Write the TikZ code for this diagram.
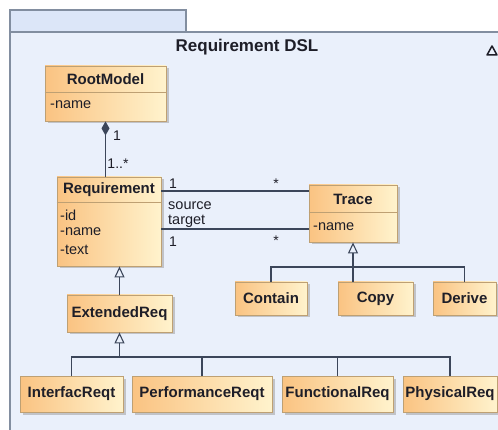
\documentclass[tikz,border=0pt]{standalone}
\usepackage{fontspec}
\setmainfont{Liberation Sans}
\usetikzlibrary{arrows.meta,shadows}

\definecolor{frameLine}{RGB}{130,142,160}
\definecolor{frameFill}{RGB}{234,240,251}
\definecolor{tabFill}{RGB}{220,230,248}
\definecolor{boxLine}{RGB}{190,160,115}
\definecolor{boxOrange}{RGB}{250,195,130}
\definecolor{boxPale}{RGB}{255,243,205}
\definecolor{ink}{RGB}{30,30,40}
\definecolor{edge}{RGB}{60,70,90}

\tikzset{
  umlclass/.style={draw=boxLine, line width=0.8pt, left color=boxOrange, right color=boxPale,
    drop shadow={shadow xshift=2.5pt, shadow yshift=-2.5pt, fill=black!35, opacity=0.6},
    inner sep=0pt, text=ink, font=\fontsize{15}{18}\selectfont\bfseries},
  clsname/.style={font=\fontsize{15}{18}\selectfont\bfseries, text=ink, inner sep=0pt},
  attr/.style={font=\fontsize{14.5}{17}\selectfont, text=ink, anchor=west, inner sep=0pt},
  mult/.style={font=\fontsize{14}{16}\selectfont, text=ink, inner sep=0pt},
  conn/.style={draw=edge, line width=1.1pt},
  genz/.style={conn, -{Triangle[open, length=11pt, width=10pt, fill=frameFill]}},
  compz/.style={conn, {Diamond[length=14pt, width=8pt]}-},
  divider/.style={draw=boxLine, line width=0.8pt},
}

% class box: name, left, top, right, bottom, text
\newcommand\classbox[6]{%
  \node[umlclass, minimum width={(#4-#2)*1pt}, minimum height={(#5-#3)*1pt}]
    (#1) at ({(#2+#4)/2},{(#3+#5)/2}) {#6};}

\begin{document}
\begin{tikzpicture}[x=1pt,y=-1pt]
\useasboundingbox (0,0) rectangle (498,430);
\fill[white] (0,0) rectangle (498,430);

% package frame with its tab
\filldraw[draw=frameLine, fill=tabFill, line width=1.2pt] (10,32) -- (10,10) -- (186,10) -- (186,32);
\filldraw[draw=frameLine, fill=frameFill, line width=1.2pt] (10,450) -- (10,32) -- (520,32) -- (520,450) -- cycle;
\node[font=\fontsize{17}{20}\selectfont\bfseries, text=ink] (title) at (247,47) {Requirement DSL};
\draw[ink, line width=1.5pt, line join=round] (487,55) -- (497,55) -- (492,46) -- cycle;

% RootModel
\classbox{root}{45}{66}{166}{121}{}
\draw[divider] (root.west |- 0,92) -- (root.east |- 0,92);
\node[clsname] (root-name) at (105.5,79) {RootModel};
\node[attr] (root-a1) at (50,105) {-name};

% Requirement
\classbox{req}{57}{177}{161}{266}{}
\draw[divider] (req.west |- 0,202) -- (req.east |- 0,202);
\node[clsname] (req-name) at (109,189.5) {Requirement};
\node[attr] (req-a1) at (60,215) {-id};
\node[attr] (req-a2) at (60,232) {-name};
\node[attr] (req-a3) at (60,250) {-text};

% Trace
\classbox{trace}{309}{185}{397}{242}{}
\draw[divider] (trace.west |- 0,212) -- (trace.east |- 0,212);
\node[clsname] (trace-name) at (353,199) {Trace};
\node[attr] (trace-a1) at (313,227) {-name};

% single-compartment classes
\classbox{ext}{67}{295}{172}{332}{ExtendedReq}
\classbox{contain}{235}{282}{307}{315}{Contain}
\classbox{copy}{338}{282}{413}{315}{Copy}
\classbox{derive}{433}{282}{496}{315}{Derive}
\classbox{ireq}{20}{376}{123}{412}{InterfacReqt}
\classbox{preq}{132}{376}{272}{412}{PerformanceReqt}
\classbox{freq}{282}{376}{393}{412}{FunctionalReq}
\classbox{phreq}{403}{376}{497}{412}{PhysicalReq}

% composition RootModel -> Requirement
\draw[compz] (root.south) -- (root.south |- req.north);
\node[mult] (m-root) at (117,136) {1};
\node[mult] (m-req) at (118,164) {1..*};

% Requirement <|-- ExtendedReq
\draw[genz] (ext.north) -- (ext.north |- req.south);

% ExtendedReq <|-- specialised requirements
\coordinate (busE) at (ext.south |- 0,357);
\draw[genz] (busE) -- (ext.south);
\draw[conn] (ireq.north) |- (busE);
\draw[conn] (preq.north) |- (busE);
\draw[conn] (freq.north) |- (busE);
\draw[conn] (phreq.north) |- (busE);

% Trace <|-- Contain, Copy, Derive
\coordinate (busT) at (trace.south |- 0,267);
\draw[genz] (busT) -- (trace.south);
\draw[conn] (contain.north) |- (busT);
\draw[conn] (derive.north) |- (busT);
\draw[conn] (copy.north -| busT) -- (busT);

% source / target associations
\draw[conn] (req.east |- 0,191) -- (trace.west |- 0,191);
\draw[conn] (req.east |- 0,229) -- (trace.west |- 0,229);
\node[mult] (m-s1) at (173,184) {1};
\node[mult] (m-s2) at (276,184) {*};
\node[attr] (l-src) at (168,206) {source};
\node[attr] (l-tgt) at (168,221) {target};
\node[mult] (m-t1) at (173,242) {1};
\node[mult] (m-t2) at (276,241) {*};
\end{tikzpicture}
\end{document}
